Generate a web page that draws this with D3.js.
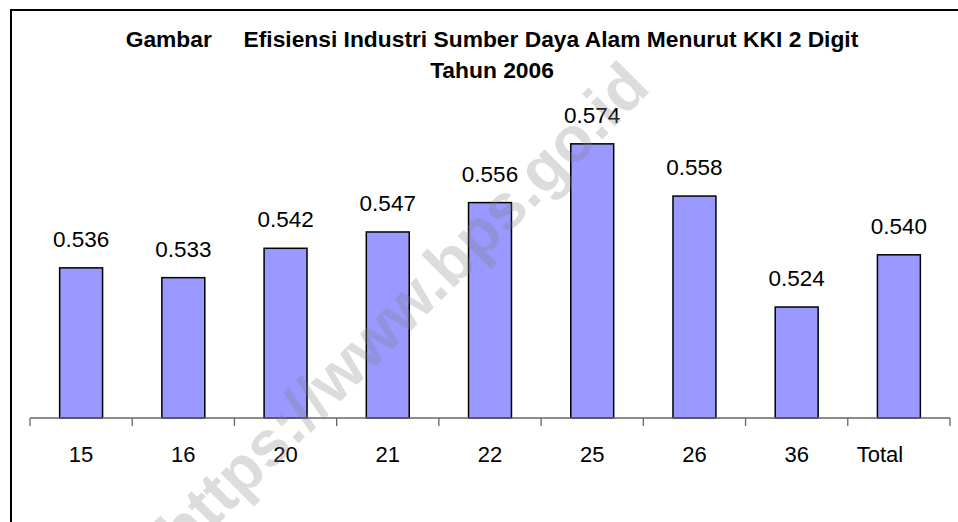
<!DOCTYPE html>
<html>
<head>
<meta charset="utf-8">
<script src="https://cdn.jsdelivr.net/npm/d3@7"></script>
<style>
	body { margin: 0; background: #fff; }
	svg { display: block; font-family: "Liberation Sans", Arial, sans-serif; }
	.pre { white-space: pre; }
</style>
</head>
<body>
<div class="container"></div>
<script>
"use strict";

// chart data
const categories = ['15', '16', '20', '21', '22', '25', '26', '36', 'Total']
const values = [0.536, 0.533, 0.542, 0.547, 0.556, 0.574, 0.558, 0.524, 0.540]
const titleLines = ['Gambar     Efisiensi Industri Sumber Daya Alam Menurut KKI 2 Digit', 'Tahun 2006']
const watermark = 'https://www.bps.go.id'

const p = {
	width: 958,
	height: 522,
	left: 30,
	right: 950,
	baseY: 418,
	topY: 59,
	barColor: '#9999ff'
}

const svg = d3.select('.container')
	.append('svg')
	.attr('width', p.width)
	.attr('height', p.height)

//outer frame (right and bottom edges fall outside the picture)
svg.append('rect')
	.attr('x', 11)
	.attr('y', 10)
	.attr('width', 960)
	.attr('height', 530)
	.attr('fill', '#fff')
	.attr('stroke', '#000')
	.attr('stroke-width', 2)

//scales
const xSlot = d3.scaleBand().domain(categories).range([p.left, p.right]).padding(0)
const xBar = d3.scaleBand().domain(categories).range([p.left, p.right]).paddingInner(0.58).paddingOuter(0.29)
const y = d3.scaleLinear().domain([0.49, 0.60]).range([p.baseY, p.topY])

//title
svg.selectAll('.title')
	.data(titleLines)
	.enter()
	.append('text')
	.attr('class', 'title pre')
	.attr('x', 492)
	.attr('y', (d, i) => 47 + i * 31)
	.attr('text-anchor', 'middle')
	.attr('font-size', 22.8)
	.attr('font-weight', 'bold')
	.text(d => d)

//bars
svg.selectAll('.bar')
	.data(values)
	.enter()
	.append('rect')
	.attr('class', 'bar')
	.attr('x', (d, i) => xBar(categories[i]))
	.attr('y', d => y(d))
	.attr('width', xBar.bandwidth())
	.attr('height', d => p.baseY - y(d))
	.attr('fill', p.barColor)
	.attr('stroke', '#000')
	.attr('stroke-width', 1.5)

//value labels
svg.selectAll('.val')
	.data(values)
	.enter()
	.append('text')
	.attr('class', 'val')
	.attr('x', (d, i) => xBar(categories[i]) + xBar.bandwidth() / 2)
	.attr('y', d => y(d) - 21)
	.attr('text-anchor', 'middle')
	.attr('font-size', 22.5)
	.text(d => d.toFixed(3))

//x axis: baseline, ticks between categories, labels
const xAxis = svg.append('g').attr('class', 'x-axis')
xAxis.append('line')
	.attr('x1', p.left)
	.attr('x2', p.right)
	.attr('y1', p.baseY)
	.attr('y2', p.baseY)
	.attr('stroke', '#666')
	.attr('stroke-width', 1.3)
xAxis.selectAll('.tick')
	.data(categories.concat(['end']))
	.enter()
	.append('line')
	.attr('x1', (d, i) => p.left + i * xSlot.step())
	.attr('x2', (d, i) => p.left + i * xSlot.step())
	.attr('y1', p.baseY)
	.attr('y2', p.baseY + 8)
	.attr('stroke', '#666')
	.attr('stroke-width', 1.3)
xAxis.selectAll('.lbl')
	.data(categories)
	.enter()
	.append('text')
	.attr('class', 'lbl')
	.attr('x', d => xBar(d) + xBar.bandwidth() / 2 - (d === 'Total' ? 19 : 0))
	.attr('y', 462)
	.attr('text-anchor', 'middle')
	.attr('font-size', 22)
	.text(d => d)

//watermark
svg.append('text')
	.attr('transform', 'translate(402,308) rotate(-45)')
	.attr('text-anchor', 'middle')
	.attr('dy', '0.35em')
	.attr('font-size', 64)
	.attr('font-weight', 'bold')
	.attr('fill', '#808080')
	.attr('fill-opacity', 0.28)
	.text(watermark)
</script>
</body>
</html>
